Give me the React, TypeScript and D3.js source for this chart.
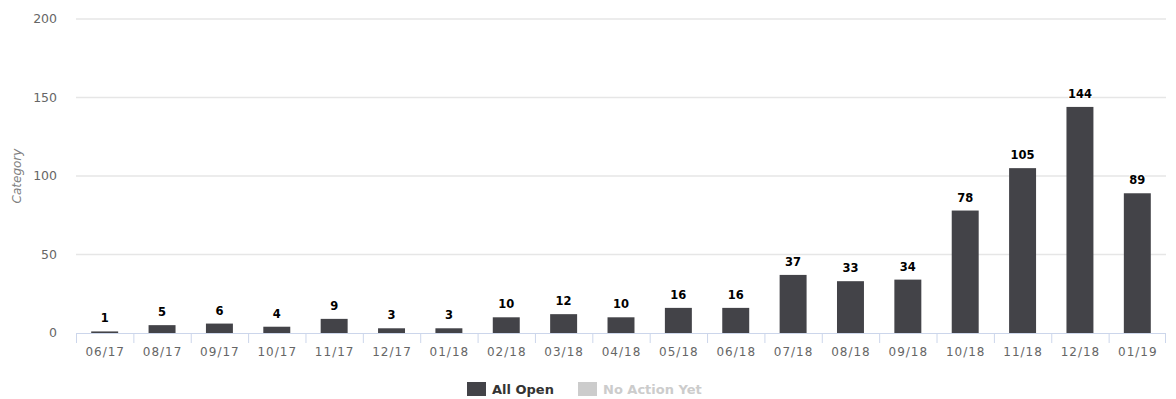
import React from "react";
import * as d3 from "d3";

const categories = ["06/17","08/17","09/17","10/17","11/17","12/17","01/18","02/18","03/18","04/18","05/18","06/18","07/18","08/18","09/18","10/18","11/18","12/18","01/19"];
const allOpen = [1,5,6,4,9,3,3,10,12,10,16,16,37,33,34,78,105,144,89];
const yTicks = [0,50,100,150,200];
const seriesNames = ["All Open","No Action Yet"];

export default function App() {
  const W = 1176, H = 399;
  const left = 76, right = 1166, top = 19, bottom = 333;
  const x = d3.scaleBand<string>().domain(categories).range([left, right]).paddingInner(0.53).paddingOuter(0.265);
  const xb = d3.scaleBand<string>().domain(categories).range([left, right]);
  const y = d3.scaleLinear().domain([0, 200]).range([bottom, top]);
  const font = "'DejaVu Sans', Verdana, sans-serif";
  return (
    <svg width={W} height={H} style={{position:"absolute", left:0, top:0, fontFamily: font}}>
      <rect width={W} height={H} fill="#fff" />
      {yTicks.map(t => (
        <g key={t}>
          {t > 0 && <line x1={left} x2={right} y1={y(t)} y2={y(t)} stroke="#e6e6e6" strokeWidth={1.5} />}
          <text x={57} y={y(t)} dy="0.35em" textAnchor="end" fontSize={12.5} fill="#666">{t}</text>
        </g>
      ))}
      <text transform={`translate(21,${(top+bottom)/2}) rotate(-90)`} textAnchor="middle" fontSize={12} fontStyle="italic" fill="#808080">Category</text>
      {categories.map((c, i) => (
        <rect key={c} x={x(c)} y={y(allOpen[i])} width={x.bandwidth()} height={bottom - y(allOpen[i])} fill="#434348" />
      ))}
      <line x1={left} x2={right} y1={bottom + 0.5} y2={bottom + 0.5} stroke="#ccd6eb" />
      {categories.map(c => (
        <line key={"t"+c} x1={xb(c)! + 0.5} x2={xb(c)! + 0.5} y1={bottom} y2={bottom + 10} stroke="#ccd6eb" />
      ))}
      <line x1={right - 0.5} x2={right - 0.5} y1={bottom} y2={bottom + 10} stroke="#ccd6eb" />
      {categories.map(c => (
        <text key={"l"+c} x={xb(c)! + xb.bandwidth()/2 + 0.5} y={bottom + 19} dy="0.35em" textAnchor="middle" fontSize={12} letterSpacing={1} fill="#666">{c}</text>
      ))}
      {categories.map((c, i) => (
        <text key={"d"+c} x={x(c)! + x.bandwidth()/2} y={y(allOpen[i]) - 9} textAnchor="middle" fontSize={11.5} fontWeight="bold" fill="#000" stroke="#fff" strokeWidth={2} paintOrder="stroke">{allOpen[i]}</text>
      ))}
      <g>
        <rect x={467} y={382} width={19} height={14} fill="#434348" />
        <text x={492} y={389} dy="0.35em" fontSize={13} fontWeight="bold" fill="#333">{seriesNames[0]}</text>
        <rect x={578} y={382} width={19} height={14} fill="#cccccc" />
        <text x={603} y={389} dy="0.35em" fontSize={13} fontWeight="bold" fill="#cccccc">{seriesNames[1]}</text>
      </g>
    </svg>
  );
}
